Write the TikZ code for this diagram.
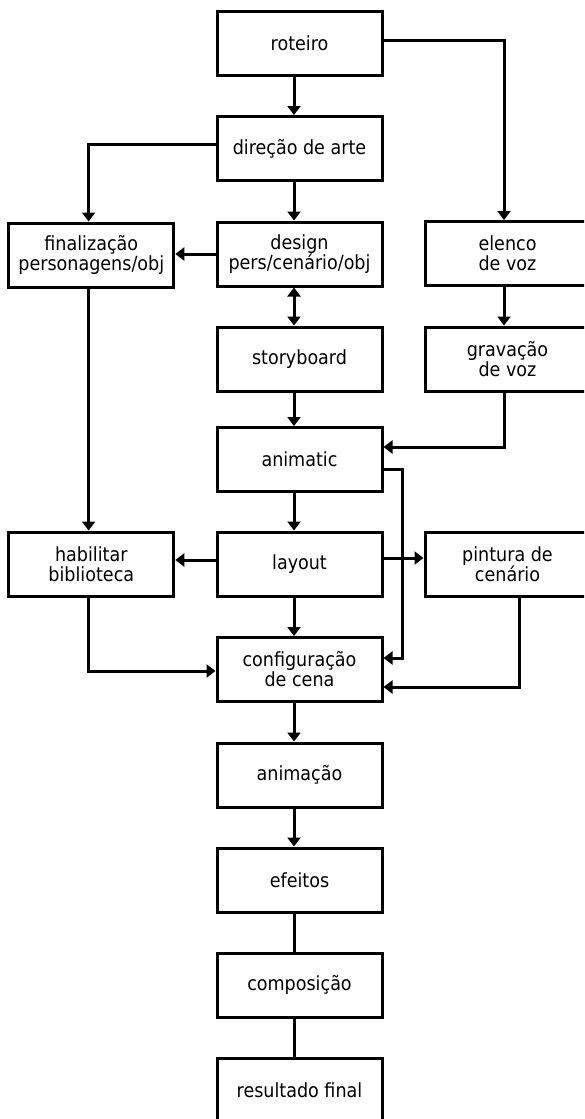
\documentclass[tikz,border=0pt]{standalone}
\usepackage{fontspec}
\setmainfont{DejaVu Sans Condensed}
\usetikzlibrary{arrows.meta}
\begin{document}
\begin{tikzpicture}[x=1pt,y=-1pt,
  box/.style={draw, line width=3pt, minimum width=165pt, minimum height=64pt, inner sep=0pt, align=center, font=\fontsize{19.5}{20}\selectfont},
  conn/.style={line width=3pt},
  arr/.style={conn, -{Triangle[width=13pt,length=9pt]}},
  darr/.style={conn, {Triangle[width=13pt,length=9pt]}-{Triangle[width=13pt,length=9pt]}}
]
\useasboundingbox (0,0) rectangle (584,1119);
\clip (0,0) rectangle (584,1119);
% centre column
\node[box] (rot) at (299.5,43) {roteiro};
\node[box] (dir) at (299.5,148.5) {direção de arte};
\node[box] (des) at (299.5,254) {design\\pers/cenário/obj};
\node[box] (sto) at (299.5,359) {storyboard};
\node[box] (ani) at (299.5,459.5) {animatic};
\node[box] (lay) at (299.5,564) {layout};
\node[box] (cfg) at (299.5,669.5) {configuração\\de cena};
\node[box] (anm) at (299.5,775) {animação};
\node[box] (efe) at (299.5,880) {efeitos};
\node[box] (com) at (299.5,985) {composição};
\node[box] (res) at (299.5,1090) {resultado final};
% left column
\node[box] (fin) at (91.3,255) {finalização\\personagens/obj};
\node[box] (hab) at (91.3,564) {habilitar\\biblioteca};
% right column
\node[box] (ele) at (507.5,253.5) {elenco\\de voz};
\node[box] (gra) at (507.5,359) {gravação\\de voz};
\node[box] (pin) at (507.5,564) {pintura de\\cenário};
% connectors
\draw[arr] ([xshift=-5.5pt]rot.south) -- ([xshift=-5.5pt]dir.north);
\draw[arr] ([yshift=3pt]rot.east) -| ([xshift=-3.5pt]ele.north);
\draw[arr] ([yshift=4.5pt]dir.west) -| ([xshift=-2.7pt]fin.north);
\draw[arr] ([xshift=-5.5pt]dir.south) -- ([xshift=-5.5pt]des.north);
\draw[arr] (des.west) -- (des.west -| fin.east);
\draw[darr] ([xshift=-5.5pt]des.south) -- ([xshift=-5.5pt]sto.north);
\draw[arr] ([xshift=-3.5pt]ele.south) -- ([xshift=-3.5pt]gra.north);
\draw[arr] ([xshift=-5.5pt]sto.south) -- ([xshift=-5.5pt]ani.north);
\draw[arr] ([xshift=-3.5pt]gra.south) |- ([yshift=12.5pt]ani.east);
\draw[arr] ([yshift=-9.5pt]ani.east) -- ++(19,0) |- ([yshift=11.5pt]cfg.east);
\draw[arr] ([xshift=-5.5pt]ani.south) -- ([xshift=-5.5pt]lay.north);
\draw[arr] ([xshift=-2.7pt]fin.south) -- ([xshift=-2.7pt]hab.north);
\draw[arr] ([yshift=4pt]lay.west) -- ([yshift=4pt]hab.east);
\draw[arr] ([yshift=6pt]lay.east) -- ([yshift=6pt]pin.west);
\draw[arr] ([xshift=-5.5pt]lay.south) -- ([xshift=-5.5pt]cfg.north);
\draw[arr] ([xshift=-2.7pt]hab.south) |- ([yshift=-1.5pt]cfg.west);
\draw[arr] ([xshift=12pt]pin.south) |- ([yshift=-17.5pt]cfg.east);
\draw[arr] ([xshift=-5.5pt]cfg.south) -- ([xshift=-5.5pt]anm.north);
\draw[arr] ([xshift=-5.5pt]anm.south) -- ([xshift=-5.5pt]efe.north);
\draw[conn] ([xshift=-5.5pt]efe.south) -- ([xshift=-5.5pt]com.north);
\draw[conn] ([xshift=-5.5pt]com.south) -- ([xshift=-5.5pt]res.north);
\end{tikzpicture}
\end{document}
